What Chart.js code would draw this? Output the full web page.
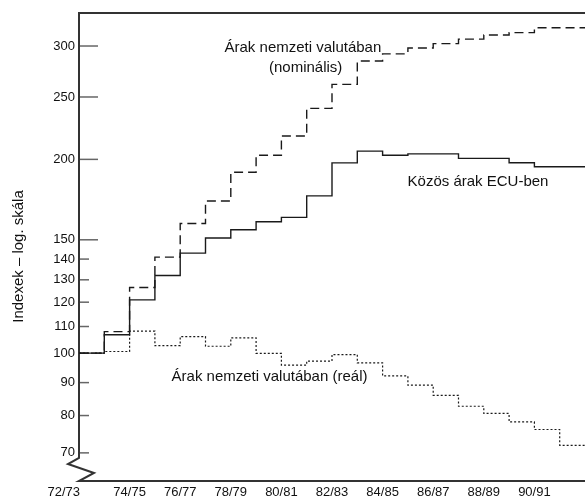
<!DOCTYPE html>
<html>
<head>
<meta charset="utf-8">
<script src="https://cdn.jsdelivr.net/npm/chart.js@4"></script>
<style>
  html, body { margin: 0; padding: 0; background: #fff; }
</style>
</head>
<body>
<canvas id="chart" width="585" height="499"></canvas>
<script>
// Marketing years, one step per year
const years = ['72/73', '73/74', '74/75', '75/76', '76/77', '77/78', '78/79', '79/80', '80/81', '81/82',
  '82/83', '83/84', '84/85', '85/86', '86/87', '87/88', '88/89', '89/90', '90/91', '91/92'];

// Index values (72/73 = 100)
const ecuPrices = [100, 106.8, 121, 132, 143, 151, 155.5, 160, 162.5, 175.5,
  197.5, 206, 203, 204, 204, 200.7, 200.7, 197.6, 194.8, 194.8];
const nominalPrices = [100, 108, 126.5, 141, 159, 172.3, 191, 203, 217.4, 240,
  261.5, 284.4, 291.7, 297.8, 302.6, 307.5, 312, 314.7, 320.3, 320.3];
const realPrices = [100, 100.6, 108.2, 102.7, 106.1, 102.5, 105.6, 99.9, 95.8, 97.2,
  99.5, 96.6, 92.2, 89.2, 86.0, 82.7, 80.6, 78.2, 76.1, 71.9];

const yTickValues = [300, 250, 200, 150, 140, 130, 120, 110, 100, 90, 80, 70];
const yLongTicks = [300, 250, 200, 150];

const FONT = "'Liberation Sans', Arial, sans-serif";

// labels placed by axis values: [text, year index, index value]
const annotations = [
  ['Árak nemzeti valutában', 8.85, 298],
  ['(nominális)', 8.96, 277.3],
  ['Közös árak ECU-ben', 15.77, 184.6],
  ['Árak nemzeti valutában (reál)', 7.53, 91.9]
];

// each value holds for its whole year, so add an end point after the last year
function toSteps(values) {
  const pts = values.map((v, i) => ({ x: i, y: v }));
  pts.push({ x: values.length, y: values[values.length - 1] });
  return pts;
}

const framePlugin = {
  id: 'frame',
  beforeDatasetsDraw(chart) {
    const { ctx, chartArea: a, scales: { y } } = chart;
    ctx.save();
    // inner tick marks
    ctx.strokeStyle = '#666';
    ctx.lineWidth = 1.5;
    yTickValues.forEach(v => {
      const py = y.getPixelForValue(v);
      const len = yLongTicks.includes(v) ? 19 : 10;
      ctx.beginPath();
      ctx.moveTo(a.left, py);
      ctx.lineTo(a.left + len, py);
      ctx.stroke();
    });
    // frame with broken axis
    ctx.strokeStyle = '#333';
    ctx.lineWidth = 2;
    ctx.beginPath();
    ctx.moveTo(a.right, a.top);
    ctx.lineTo(a.left, a.top);
    ctx.lineTo(a.left, a.bottom - 23);
    ctx.lineTo(a.left - 11, a.bottom - 17);
    ctx.lineTo(a.left + 15, a.bottom - 8);
    ctx.lineTo(a.left, a.bottom);
    ctx.lineTo(a.right, a.bottom);
    ctx.stroke();
    ctx.restore();
  },
  afterDraw(chart) {
    const { ctx, chartArea: a, scales: { x, y } } = chart;
    ctx.save();
    ctx.fillStyle = '#111';
    ctx.textBaseline = 'middle';

    // x labels, every other year
    ctx.font = '13px ' + FONT;
    years.forEach((lab, i) => {
      if (i % 2) return;
      const px = x.getPixelForValue(i);
      if (i === 0) {
        ctx.textAlign = 'right';
        ctx.fillText(lab, px + 1, a.bottom + 11);
      } else {
        ctx.textAlign = 'center';
        ctx.fillText(lab, px, a.bottom + 11);
      }
    });

    // series labels
    ctx.font = '15px ' + FONT;
    ctx.textAlign = 'center';
    annotations.forEach(([text, xv, yv]) => {
      ctx.fillText(text, x.getPixelForValue(xv), y.getPixelForValue(yv));
    });

    // y title
    ctx.translate(18.5, 256.5);
    ctx.rotate(-Math.PI / 2);
    ctx.fillText('Indexek – log. skála', 0, 0);
    ctx.restore();
  }
};

new Chart(document.getElementById('chart'), {
  type: 'line',
  data: {
    datasets: [{
      label: 'Közös árak ECU-ben',
      data: toSteps(ecuPrices),
      borderColor: '#1a1a1a',
      borderWidth: 1.4,
      stepped: true,
      pointRadius: 0
    }, {
      label: 'Árak nemzeti valutában (nominális)',
      data: toSteps(nominalPrices),
      borderColor: '#1a1a1a',
      borderWidth: 1.4,
      borderDash: [9, 5],
      stepped: true,
      pointRadius: 0
    }, {
      label: 'Árak nemzeti valutában (reál)',
      data: toSteps(realPrices),
      borderColor: '#1a1a1a',
      borderWidth: 1.2,
      borderDash: [2, 2],
      stepped: true,
      pointRadius: 0
    }]
  },
  options: {
    responsive: false,
    animation: false,
    layout: { padding: { top: 13, right: 0, bottom: 0, left: 0 } },
    plugins: {
      legend: { display: false },
      tooltip: { enabled: false }
    },
    scales: {
      x: {
        type: 'linear',
        min: 0,
        max: years.length,
        grid: { display: false },
        border: { display: false },
        ticks: { display: false },
        afterFit(s) { s.height = 18; }
      },
      y: {
        type: 'logarithmic',
        min: 63.3,
        max: 337.6,
        grid: { display: false, drawTicks: false },
        border: { display: false },
        ticks: {
          autoSkip: false,
          padding: 4,
          color: '#111',
          font: { family: FONT, size: 13 },
          callback: v => String(v)
        },
        afterBuildTicks(s) { s.ticks = yTickValues.map(v => ({ value: v })); },
        afterFit(s) { s.width = 79; }
      }
    }
  },
  plugins: [framePlugin]
});
</script>
</body>
</html>
